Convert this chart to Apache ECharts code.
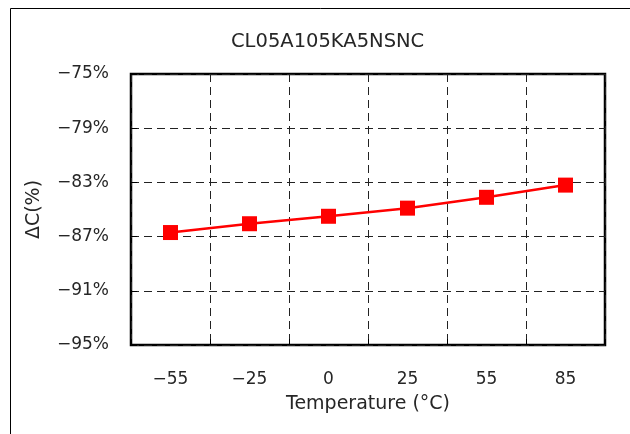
<!DOCTYPE html>
<html><head><meta charset="utf-8">
<script src="https://cdn.jsdelivr.net/npm/echarts@6/dist/echarts.min.js"></script>
<style>html,body{margin:0;padding:0;background:#fff}#c{width:630px;height:434px}</style>
</head><body><div id="c"></div>
<script>
const categories = ['-55', '-25', '0', '25', '55', '85'];
const values = [-86.7, -86.05, -85.5, -84.9, -84.1, -83.2];
const yTicks = [-95, -91, -87, -83, -79, -75];
const title = 'CL05A105KA5NSNC';
const xName = 'Temperature (°C)';
const yName = 'ΔC(%)';

const font = '"DejaVu Sans", Verdana, sans-serif';
const txt = '#262626';
const chart = echarts.init(document.getElementById('c'), null, {renderer: 'canvas'});
chart.setOption({
  animation: false,
  backgroundColor: '#fff',
  title: {text: title, left: 226, top: 27, textStyle: {fontFamily: font, fontSize: 19.5, fontWeight: 'normal', color: txt}},
  graphic: [{type: 'rect', shape: {x: 10.5, y: 8.5, width: 700, height: 500}, style: {fill: 'none', stroke: '#000', lineWidth: 1}, silent: true}],
  grid: {left: 131, right: 25, top: 74, bottom: 89, show: true, borderColor: '#000', borderWidth: 2.5, backgroundColor: 'transparent'},
  xAxis: {
    type: 'category', data: categories, boundaryGap: true,
    name: xName, nameLocation: 'middle', nameGap: 50,
    nameTextStyle: {fontFamily: font, fontSize: 19, color: txt},
    axisLine: {show: false},
    axisTick: {show: true, inside: true, length: 6, lineStyle: {color: '#000'}},
    axisLabel: {fontFamily: font, fontSize: 17, color: txt, margin: 26, formatter: v => v.replace('-', '−')},
    splitLine: {show: true, lineStyle: {color: '#222', type: [8, 5], width: 1}}
  },
  yAxis: {
    type: 'value', min: yTicks[0], max: yTicks[yTicks.length - 1], interval: 4,
    name: yName, nameLocation: 'middle', nameGap: 87, nameRotate: 90,
    nameTextStyle: {fontFamily: font, fontSize: 19, color: txt},
    axisLine: {show: false},
    axisTick: {show: true, inside: true, length: 6, lineStyle: {color: '#000'}},
    axisLabel: {fontFamily: font, fontSize: 17, color: txt, margin: 22, padding: [4, 0, 0, 0], formatter: v => (v < 0 ? '−' : '') + Math.abs(v) + '%'},
    splitLine: {show: true, lineStyle: {color: '#222', type: [8, 5], width: 1}}
  },
  series: [{
    type: 'line', data: values, symbol: 'rect', symbolSize: 15,
    itemStyle: {color: '#ff0000'}, lineStyle: {color: '#ff0000', width: 2.5}
  }]
});
</script></body></html>
